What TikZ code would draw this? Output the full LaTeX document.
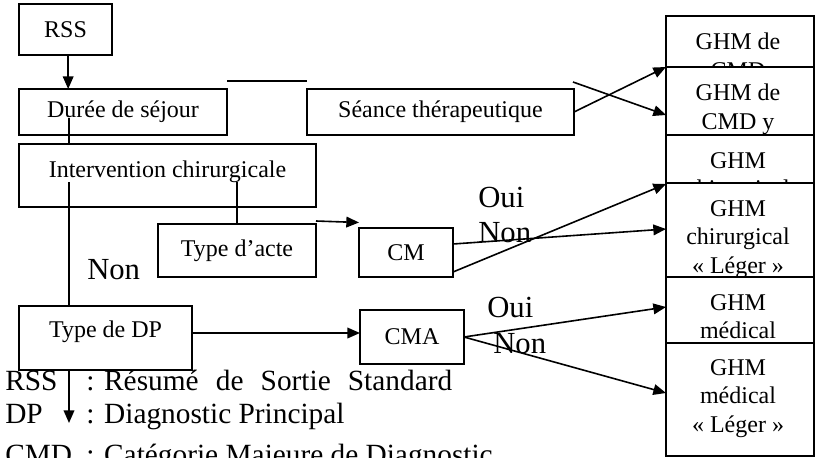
\documentclass[tikz,border=0pt]{standalone}
\usepackage{fontspec}
\setmainfont{Liberation Serif}
\usepackage{tikz}
\usetikzlibrary{calc, arrows.meta}

\newcommand{\upx}{0.75pt}
\newcommand{\legline}[2]{\makebox[60.75pt][l]{#1}: #2}

\begin{document}
\begin{tikzpicture}[
        x=0.75pt, y=-0.75pt,
        % Define block styles
        box/.style={draw, fill=white, rectangle, line width=1.2pt, inner sep=0pt, outer sep=0pt, anchor=north west, text centered, font=\fontsize{18}{21.5}\selectfont},
        ghmbox/.style={box, minimum width=148*\upx},
        ghmtext/.style={anchor=north, inner sep=0pt, align=center, font=\fontsize{18}{21.5}\selectfont},
        answer/.style={anchor=base west, inner sep=0pt, font=\fontsize{23}{26}\selectfont},
        legend/.style={anchor=base west, inner sep=0pt, font=\fontsize{22}{25}\selectfont},
        line/.style={draw, line width=1.2pt},
        arrow/.style={line, -{Triangle[length=9.5pt, width=8pt]}}
    ]
    \useasboundingbox (0,0) rectangle (816,457);

    % --- Nodes Placement ---
    \node[box, minimum width=93*\upx, minimum height=51*\upx] (rss) at (19,4) {RSS};
    \node[box, minimum width=208*\upx, minimum height=46*\upx] (duree) at (19,89) {Durée de séjour};
    \node[box, minimum width=267*\upx, minimum height=46*\upx] (seance) at (307,89) {Séance thérapeutique};
    \node[box, minimum width=297*\upx, minimum height=63*\upx, text depth=9pt] (interv) at (19,144) {Intervention chirurgicale};
    \node[box, minimum width=158*\upx, minimum height=53*\upx] (acte) at (158,224) {Type d’acte};
    \node[box, minimum width=94*\upx, minimum height=49*\upx] (cm) at (359,228) {CM};
    \node[box, minimum width=173*\upx, minimum height=64*\upx, text depth=13pt] (typedp) at (19,306) {Type de DP};
    \node[box, minimum width=104*\upx, minimum height=54*\upx] (cma) at (360,310) {CMA};

    % GHM column (each box covers the text of the one above)
    \node[ghmbox, minimum height=51*\upx] (ghm1) at (666,16) {};
    \node[ghmtext] (ghm1t) at ($(ghm1.north)+(-2,17)$) {GHM de\\CMD};
    \node[ghmbox, minimum height=68*\upx] (ghm2) at (666,67) {};
    \node[ghmtext] (ghm2t) at ($(ghm2.north)+(-2,17)$) {GHM de\\CMD y};
    \node[ghmbox, minimum height=48*\upx] (ghm3) at (666,135) {};
    \node[ghmtext] (ghm3t) at ($(ghm3.north)+(-2,17)$) {GHM\\chirurgical};
    \node[ghmbox, minimum height=94*\upx] (ghm4) at (666,183) {};
    \node[ghmtext] (ghm4t) at ($(ghm4.north)+(-2,17)$) {GHM\\chirurgical\\« Léger »};
    \node[ghmbox, minimum height=66*\upx] (ghm5) at (666,277) {};
    \node[ghmtext] (ghm5t) at ($(ghm5.north)+(-2,17)$) {GHM\\médical};
    \node[ghmbox, minimum height=113*\upx] (ghm6) at (666,343) {};
    \node[ghmtext] (ghm6t) at ($(ghm6.north)+(-2,16)$) {GHM\\médical\\« Léger »};

    % free ends of the lines
    \coordinate (dtop) at (69,118);
    \coordinate (itxt) at (69,182);
    \coordinate (gtxt) at (237,182);
    \coordinate (dpend) at (69,423);
    \coordinate (dpout) at ($(typedp.east)+(0,-5)$);
    \coordinate (xstart) at (573,82);

    % --- Connections / Arrows ---
    \draw[arrow] ([xshift=2pt]rss.south) -- ([xshift=2pt]rss.south |- duree.north);
    \draw[line] (dtop) -- (dtop |- interv.north);
    \draw[line] (itxt) -- (itxt |- typedp.north);
    \draw[line] (gtxt) -- (gtxt |- acte.north);
    \draw[line] ($(duree.north east)+(0,-8)$) -- ($(seance.north west)+(0,-8)$);

    \draw[arrow] ($(acte.north east)+(0,-3)$) -- ($(cm.north west)+(0,-5.5)$);
    \draw[arrow] (dpout) -- (dpout -| cma.west);
    \draw[arrow] (dpend |- typedp.south) -- (dpend);

    \draw[arrow] (seance.east) -- (ghm2.north west);
    \draw[arrow] (xstart) -- ($(ghm2.north west)+(0,48)$);

    \draw[arrow] ($(cm.north east)+(0,16)$) -- ($(ghm4.north west)+(0,46)$);
    \draw[arrow] ($(cm.south east)+(0,-5)$) -- ($(ghm4.north west)+(0,1)$);
    \draw[arrow] (cma.east) -- ($(ghm5.north west)+(0,30)$);
    \draw[arrow] (cma.east) -- ($(ghm6.north west)+(0,50)$);

    % Branch labels
    \node[answer] (oui1) at (478,207) {Oui};
    \node[answer] (non1) at (478,242) {Non};
    \node[answer] (oui2) at (487,317) {Oui};
    \node[answer] (non2) at (493,353) {Non};
    \node[answer] (non0) at (87,279) {Non};

    % Legend
    \node[legend] (leg1) at (5,390) {\legline{RSS}{\makebox[261pt][s]{Résumé de Sortie Standard}}};
    \node[legend] (leg2) at (5,423) {\legline{DP}{Diagnostic Principal}};
    \node[legend] (leg3) at (5,464) {\legline{CMD}{Catégorie Majeure de Diagnostic}};

\end{tikzpicture}
\end{document}
